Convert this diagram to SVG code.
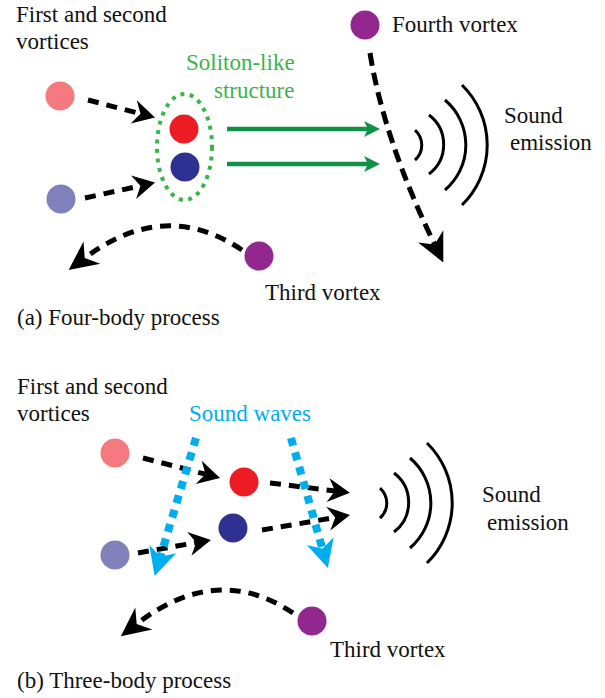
<svg xmlns="http://www.w3.org/2000/svg" width="605" height="698" viewBox="0 0 605 698">
<style>
text{font-family:"Liberation Serif","Times New Roman",serif;font-size:23px;fill:#111}
.g{fill:#39b54a}
.c{fill:#00aeef}
.dash{fill:none;stroke:#000;stroke-width:5;stroke-dasharray:11 8}
.cy{fill:none;stroke:#00aeef;stroke-width:8;stroke-dasharray:8 7}
.arc{fill:none;stroke:#000;stroke-width:3}
.gr{fill:none;stroke:#0f9146;stroke-width:4.5}
</style>
<defs>
<marker id="ah" markerUnits="userSpaceOnUse" markerWidth="40" markerHeight="40" refX="0" refY="0" orient="auto" overflow="visible"><path d="M15,0 L-7,-12 L0,0 L-7,12 Z" fill="#000"/></marker>
<marker id="ahL" markerUnits="userSpaceOnUse" markerWidth="50" markerHeight="50" refX="0" refY="0" orient="auto" overflow="visible"><path d="M20,0 L-9,-14 L0,0 L-9,14 Z" fill="#000"/></marker>
<marker id="ch" markerUnits="userSpaceOnUse" markerWidth="50" markerHeight="50" refX="0" refY="0" orient="auto" overflow="visible"><path d="M20,0 L-8,-14 L0,0 L-8,14 Z" fill="#00aeef"/></marker>
<marker id="gh" markerUnits="userSpaceOnUse" markerWidth="30" markerHeight="30" refX="0" refY="0" orient="auto" overflow="visible"><path d="M12,0 L-4,-8 L0,0 L-4,8 Z" fill="#0f9146"/></marker>
</defs>

<g id="connectors">
<path class="dash" d="M88,100 L140.5,113.7" marker-end="url(#ah)"/>
<path class="dash" d="M85,198 L140.4,185.8" marker-end="url(#ah)"/>
<path class="gr" d="M227,129 L368,129" marker-end="url(#gh)"/>
<path class="gr" d="M227,164 L368,164" marker-end="url(#gh)"/>
<path class="dash" style="stroke-dasharray:13 7" d="M370,53 Q384,140 434.6,244.4" marker-end="url(#ahL)"/>
<path class="dash" d="M242,250 Q165,198 84.7,258" marker-end="url(#ahL)"/>
<path class="dash" d="M143,458 L205.5,474.2" marker-end="url(#ah)"/>
<path class="dash" d="M138,553 L196.2,542.6" marker-end="url(#ah)"/>
<path class="dash" d="M270,483 L335,491" marker-end="url(#ah)"/>
<path class="dash" d="M262,530 L335.2,517.5" marker-end="url(#ah)"/>
<path class="cy" d="M196,438 L160.4,556.8" marker-end="url(#ch)"/>
<path class="cy" d="M291,438 L322.4,548.8" marker-end="url(#ch)"/>
<path class="dash" d="M293,613 Q217,562 136.7,624" marker-end="url(#ahL)"/>
</g>

<g id="soliton">
<ellipse cx="184.5" cy="147" rx="27.5" ry="53" fill="none" stroke="#39b54a" stroke-width="4" stroke-dasharray="4 5.5"/>
<text class="g" x="186" y="70">Soliton-like</text>
<text class="g" x="214" y="98">structure</text>
</g>
<g id="a-first-second">
<circle cx="60" cy="96" r="14.5" fill="#f47a7f"/>
<circle cx="61" cy="199" r="14.5" fill="#8080bc"/>
<text x="16" y="22">First and second</text>
<text x="16" y="49">vortices</text>
</g>
<g id="a-pair">
<circle cx="184" cy="129" r="14.5" fill="#ed1c24"/>
<circle cx="185" cy="167" r="14.5" fill="#2e3192"/>
</g>
<g id="a-fourth">
<circle cx="365" cy="25" r="14.5" fill="#92278f"/>
<text x="392" y="32">Fourth vortex</text>
</g>
<g id="a-third">
<circle cx="259" cy="256" r="14.5" fill="#92278f"/>
<text x="265" y="300">Third vortex</text>
</g>
<g id="a-sound">
<path class="arc" d="M415,130 A20,20 0 0 1 415,160"/>
<path class="arc" d="M429,115 A37,37 0 0 1 429,174"/>
<path class="arc" d="M445,100 A59,59 0 0 1 445,190"/>
<path class="arc" d="M462,85 A84,84 0 0 1 462,205"/>
<text x="504" y="123">Sound</text>
<text x="510" y="150">emission</text>
</g>
<text id="a-caption" x="17" y="325">(a) Four-body process</text>

<g id="b-first-second">
<circle cx="115" cy="453" r="14.5" fill="#f47a7f"/>
<circle cx="115" cy="555" r="14.5" fill="#8080bc"/>
<text x="17" y="394">First and second</text>
<text x="17" y="421">vortices</text>
</g>
<g id="b-pair">
<circle cx="244" cy="482" r="14.5" fill="#ed1c24"/>
<circle cx="233" cy="528" r="14.5" fill="#2e3192"/>
</g>
<g id="b-waves-label">
<text class="c" x="189" y="421">Sound waves</text>
</g>
<g id="b-sound">
<path class="arc" d="M380,488 A20,20 0 0 1 380,518"/>
<path class="arc" d="M394,473 A37,37 0 0 1 394,532"/>
<path class="arc" d="M410,458 A59,59 0 0 1 410,548"/>
<path class="arc" d="M427,443 A84,84 0 0 1 427,563"/>
<text x="482" y="502">Sound</text>
<text x="487" y="530">emission</text>
</g>
<g id="b-third">
<circle cx="312" cy="621" r="14.5" fill="#92278f"/>
<text x="330" y="657">Third vortex</text>
</g>
<text id="b-caption" x="17" y="688">(b) Three-body process</text>
</svg>
